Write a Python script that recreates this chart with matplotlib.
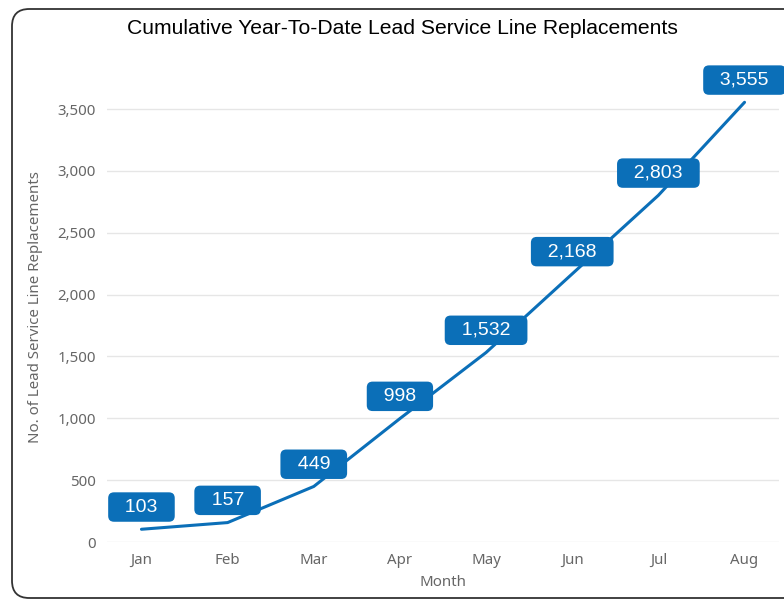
import matplotlib
matplotlib.use('Agg')
import matplotlib.pyplot as plt
from matplotlib.patches import FancyBboxPatch

months = ['Jan', 'Feb', 'Mar', 'Apr', 'May', 'Jun', 'Jul', 'Aug']
replacements = [103, 157, 449, 998, 1532, 2168, 2803, 3555]
y_ticks = [0, 500, 1000, 1500, 2000, 2500, 3000, 3500]

blue = '#0b6fb8'
gray = '#666666'

fig = plt.figure(figsize=(7.84, 6.0), dpi=100)

# rounded frame around the visual (runs off right edge)
frame = FancyBboxPatch((12 / 784, 2 / 600), 800 / 784, 589 / 600,
                       boxstyle='round,pad=0,rounding_size=0.022',
                       transform=fig.transFigure, fc='none', ec='#333333',
                       lw=1.3, mutation_aspect=784 / 600, zorder=-1)
fig.patches.append(frame)

ax = fig.add_axes([107 / 784, 58 / 600, 672 / 784, 470 / 600])
ax.set_facecolor('none')
x = list(range(len(months)))
ax.plot(x, replacements, color=blue, lw=2.2, solid_capstyle='round', zorder=3)

for i, v in zip(x, replacements):
    ax.annotate('  {:,}  '.format(v), (i, v), xytext=(0, 16), textcoords='offset points',
                ha='center', va='center', color='white', fontsize=14,
                family='Liberation Sans', annotation_clip=False, zorder=4,
                bbox=dict(boxstyle='round,pad=0.32,rounding_size=0.3', fc=blue, ec='none'))

ax.set_xlim(-0.4, 7.4)
ax.set_ylim(0, 3800)
ax.set_xticks(x)
ax.set_xticklabels(months)
ax.set_yticks(y_ticks)
ax.set_yticklabels(['{:,}'.format(t) for t in y_ticks])
ax.tick_params(length=0, colors=gray, labelsize=10.8, pad=8)
for lab in ax.get_xticklabels() + ax.get_yticklabels():
    lab.set_family('Noto Sans')
ax.grid(axis='y', color='#e6e6e6', lw=1)
ax.set_axisbelow(True)
for s in ax.spines.values():
    s.set_visible(False)

ax.set_xlabel('Month', color=gray, fontsize=10.8, family='Noto Sans', labelpad=5)
ax.set_ylabel('No. of Lead Service Line Replacements', color=gray, fontsize=10.8,
              family='Noto Sans', labelpad=10)

fig.text(402 / 784, 1 - 29 / 600, 'Cumulative Year-To-Date Lead Service Line Replacements',
         ha='center', va='center', fontsize=15.2, family='Liberation Sans', color='black')

fig.savefig('out.png', dpi=100)
